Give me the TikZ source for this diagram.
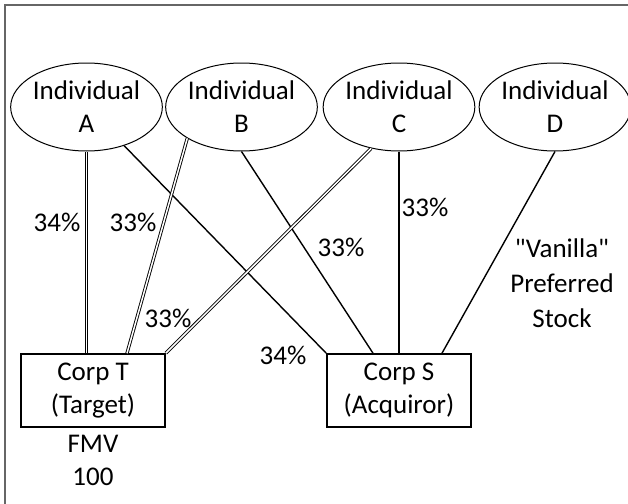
\documentclass[tikz,border=0pt]{standalone}
\usepackage{fontspec}
\setmainfont{Carlito}
\newfontfamily\quotefont{Carlito}
\usetikzlibrary{shapes.geometric}
\begin{document}
\begin{tikzpicture}[x=0.5pt,y=-0.5pt,
  every node/.style={font=\fontsize{13.5pt}{16.5pt}\selectfont, inner sep=0pt, align=center},
  person/.style={draw, ellipse, line width=0.5pt, minimum width=72.5pt, minimum height=44pt},
  corp/.style={draw, rectangle, line width=0.8pt, minimum width=72pt, minimum height=36.5pt},
  link/.style={line width=0.7pt},
  dlink/.style={draw=black, line width=0.45pt, double=white, double distance=0.75pt},
  pct/.style={}]
\useasboundingbox (0,0) rectangle (628,504);
\begin{scope}
\clip (0,0) rectangle (628,504);
\draw[line width=1pt, black!60] (5,5) rectangle (700,600);
\end{scope}
\node[person] (A) at (86.5,107) {Individual\\A};
\node[person] (B) at (241.5,107) {Individual\\B};
\node[person] (C) at (399,107) {Individual\\C};
\node[person] (D) at (555,107) {Individual\\D};
\node[corp] (T) at (93,390.5) {Corp T\\(Target)};
\node[corp] (S) at (399,390.5) {Corp S\\(Acquiror)};
\node (fmv) at (93,460) {FMV\\100};
\node[font=\fontsize{13.5pt}{17.5pt}\selectfont] (van) at (562,283) {{\quotefont"}Vanilla{\quotefont"}\\Preferred\\Stock};
% connectors
\draw[link] (A) -- (S.north west);
\draw[link] (B.south) -- ([xshift=-13pt]S.north);
\draw[link] (C.south) -- (S.north);
\draw[link] (D.south) -- ([xshift=21.5pt]S.north);
\draw[dlink] (A.south) -- (A.south |- T.north);
\draw[dlink] (B.-150) -- ([xshift=17pt]T.north);
\draw[dlink] (C.-124) -- (T.north east);
% labels
\node[pct] (l1) at (57,222) {34\%};
\node[pct] (l2) at (133,222) {33\%};
\node[pct] (l3) at (425,207) {33\%};
\node[pct] (l4) at (341,247) {33\%};
\node[pct] (l5) at (168,318) {33\%};
\node[pct] (l6) at (283,355) {34\%};
\end{tikzpicture}
\end{document}
